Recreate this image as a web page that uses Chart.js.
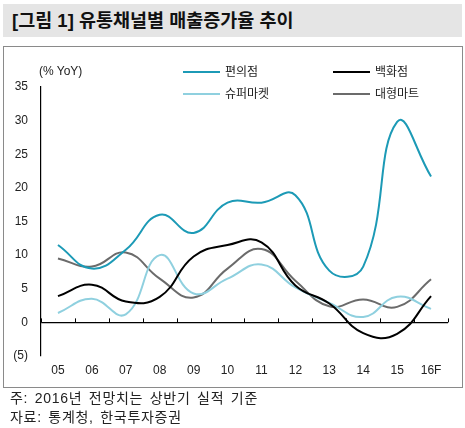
<!DOCTYPE html>
<html>
<head>
<meta charset="utf-8">
<script src="https://cdn.jsdelivr.net/npm/chart.js@4"></script>
<style>
    body { margin: 0; background: #fff; font-family: "Liberation Sans", "Noto Sans CJK KR", sans-serif; }
    #page { position: relative; width: 465px; height: 428px; overflow: hidden; }
    #title { position: absolute; left: 3px; top: 4px; width: 459px; height: 33px; background: #e5e5e5;
             font: bold 18.5px "Liberation Sans", "Noto Sans CJK KR", sans-serif; line-height: 33px; color: #111; }
    #title span { margin-left: 9px; }
    #box { position: absolute; left: 3px; top: 46px; width: 458px; height: 340px; border: 1px solid #8a8a8a; }
    #chart { position: absolute; left: 0; top: 0; }
    .unit { position: absolute; left: 39px; top: 64px; font-size: 12px; color: #222; }
    .leg { position: absolute; font-size: 12px; color: #222; height: 16px; line-height: 16px; white-space: nowrap; }
    .leg i { display: inline-block; width: 37px; height: 2px; vertical-align: middle; margin-right: 5px; position: relative; top: -1px; }
    .note { position: absolute; left: 10px; font-size: 14px; line-height: 16px; letter-spacing: 0.7px; word-spacing: 2px; color: #222; white-space: nowrap; }
</style>
</head>
<body>
<div id="page">
    <div id="title"><span>[그림 1] 유통채널별 매출증가율 추이</span></div>
    <div id="box"></div>
    <canvas id="chart" width="465" height="428"></canvas>
    <div class="unit">(% YoY)</div>
    <div id="legend"></div>
    <div class="note" style="top:390px">주: 2016년 전망치는 상반기 실적 기준</div>
    <div class="note" style="top:409px">자료: 통계청, 한국투자증권</div>
</div>
<script>
    // Categories and series values (% YoY)
    const years = ['05', '06', '07', '08', '09', '10', '11', '12', '13', '14', '15', '16F'];
    const convenience = [11.5, 8.0, 10.8, 16.0, 13.3, 17.8, 17.8, 18.9, 7.7, 8.3, 29.8, 21.7];
    const department = [3.9, 5.6, 3.1, 3.8, 9.8, 11.5, 11.9, 5.5, 2.8, -1.6, -1.7, 3.9];
    const supermarket = [1.4, 3.5, 1.2, 10.0, 4.3, 6.5, 8.6, 5.2, 2.9, 0.8, 3.8, 2.0];
    const hypermarket = [9.5, 8.3, 10.4, 6.5, 3.7, 8.0, 10.9, 6.2, 2.4, 3.4, 2.3, 6.4];
    const yTicks = [35, 30, 25, 20, 15, 10, 5, 0, -5];

    const series = [
        { label: '편의점', data: convenience, color: '#1c9ab6' },
        { label: '백화점', data: department, color: '#000000' },
        { label: '슈퍼마켓', data: supermarket, color: '#8fd0df' },
        { label: '대형마트', data: hypermarket, color: '#6b6b6b' }
    ];

    // Legend (2 x 2 grid)
    const legendPos = [[183, 64], [333, 64], [183, 86], [333, 86]];
    document.getElementById('legend').innerHTML = series.map((s, i) => `
        <div class="leg" style="left:${legendPos[i][0]}px;top:${legendPos[i][1]}px">
            <i style="background:${s.color}"></i>${s.label}
        </div>`).join('');

    // Short tick marks sitting on the zero line, between categories
    const zeroTicks = {
        id: 'zeroTicks',
        afterDatasetsDraw(chart) {
            const x = chart.scales.x, y = chart.scales.y;
            const ctx = chart.ctx;
            const zy = y.getPixelForValue(0);
            const half = (x.getPixelForValue(1) - x.getPixelForValue(0)) / 2;
            ctx.save();
            ctx.strokeStyle = '#000';
            ctx.lineWidth = 1;
            for (let i = 0; i <= years.length; i++) {
                const px = Math.round(x.getPixelForValue(i) - half) + 0.5;
                ctx.beginPath();
                ctx.moveTo(px, zy);
                ctx.lineTo(px, zy - 4);
                ctx.stroke();
            }
            ctx.restore();
        }
    };

    new Chart(document.getElementById('chart'), {
        type: 'line',
        data: {
            labels: years,
            datasets: series.map(s => ({
                label: s.label,
                data: s.data,
                borderColor: s.color,
                borderWidth: 2,
                pointRadius: 0,
                tension: 0.45,
                fill: false
            }))
        },
        options: {
            responsive: false,
            animation: false,
            layout: { padding: { left: 0, right: 17, top: 87, bottom: 48 } },
            plugins: { legend: { display: false }, tooltip: { enabled: false } },
            scales: {
                x: {
                    offset: true,
                    grid: { display: false, drawTicks: false },
                    border: { display: false },
                    afterFit: scale => { scale.height = 24; },
                    ticks: {
                        padding: 7,
                        color: '#222',
                        font: { family: '"Liberation Sans", sans-serif', size: 12 },
                        maxRotation: 0
                    }
                },
                y: {
                    min: -5,
                    max: 35,
                    afterFit: scale => { scale.width = 41; },
                    afterBuildTicks: scale => { scale.ticks = yTicks.map(v => ({ value: v })); },
                    grid: {
                        drawTicks: false,
                        lineWidth: 1.2,
                        color: ctx => ctx.tick && ctx.tick.value === 0 ? '#000' : 'rgba(0,0,0,0)'
                    },
                    border: { display: true, color: '#000', width: 1.2 },
                    ticks: {
                        padding: 13,
                        color: '#222',
                        font: { family: '"Liberation Sans", sans-serif', size: 12 },
                        callback: v => v < 0 ? '(' + Math.abs(v) + ')' : v
                    }
                }
            }
        },
        plugins: [zeroTicks]
    });
</script>
</body>
</html>
